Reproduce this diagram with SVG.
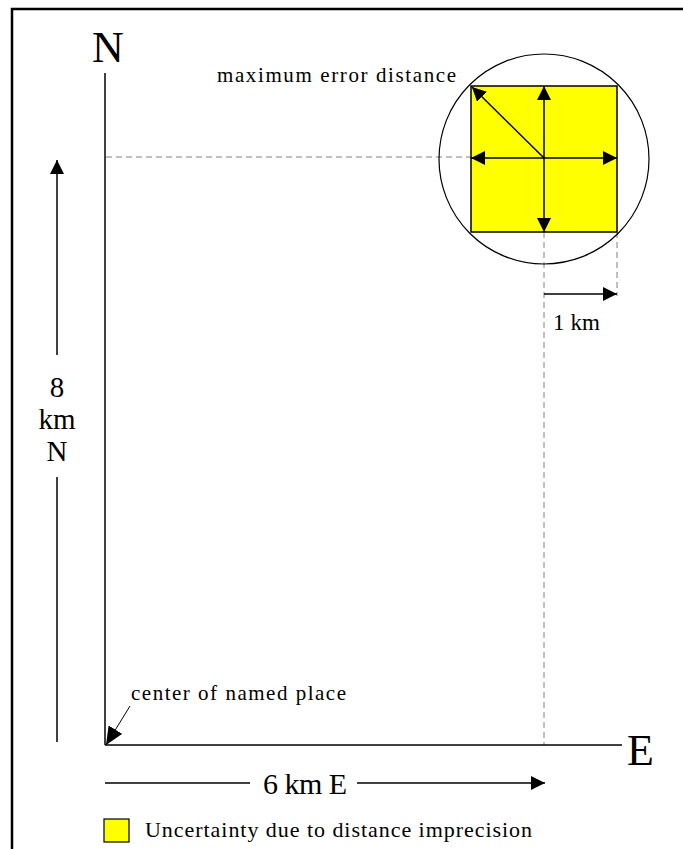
<svg xmlns="http://www.w3.org/2000/svg" width="683" height="849" viewBox="0 0 683 849">
<style>
text{font-family:"Liberation Serif","Times New Roman",serif;fill:#000}
.ax{stroke:#000;stroke-width:1.5;fill:none}
.dash{stroke:#808080;stroke-width:1;stroke-dasharray:6,4;fill:none}
.ar{stroke:#000;stroke-width:1.5;fill:none}
</style>
<defs>
<marker id="ah" viewBox="0 0 14 14" refX="14" refY="7" markerWidth="14" markerHeight="14" markerUnits="userSpaceOnUse" orient="auto">
<path d="M0,0 L14,7 L0,14 Z" fill="#000"/>
</marker>
<marker id="ahs" viewBox="0 0 18 16" refX="18" refY="8" markerWidth="18" markerHeight="16" markerUnits="userSpaceOnUse" orient="auto">
<path d="M0,0 L18,8 L0,16 Z" fill="#000"/>
</marker>
</defs>
<rect width="683" height="849" fill="#fff"/>
<path d="M12,849 V9 H683" stroke="#000" stroke-width="2.5" fill="none"/>

<g id="connectors">
<line class="dash" x1="106" y1="157" x2="471" y2="157"/>
<line class="dash" x1="544" y1="232" x2="544" y2="745"/>
<line class="dash" x1="617" y1="232" x2="617" y2="296"/>
<line class="ar" x1="544" y1="294" x2="617" y2="294" marker-end="url(#ah)"/>
<line class="ar" x1="57" y1="355" x2="57" y2="160" marker-end="url(#ah)"/>
<line class="ar" x1="57" y1="477" x2="57" y2="742"/>
<line class="ar" x1="105" y1="783" x2="250" y2="783"/>
<line class="ar" x1="357" y1="783" x2="545" y2="783" marker-end="url(#ah)"/>
<line x1="130" y1="706" x2="106" y2="745" stroke="#000" stroke-width="1" marker-end="url(#ahs)"/>
</g>

<g id="axes">
<line class="ax" x1="105" y1="73" x2="105" y2="745"/>
<line class="ax" x1="105" y1="745" x2="622" y2="745"/>
<text x="92" y="62" font-size="44">N</text>
<text x="627" y="765" font-size="44">E</text>
</g>

<g id="uncertainty">
<circle cx="544" cy="159" r="105" fill="none" stroke="#000" stroke-width="1.2"/>
<rect x="471" y="86" width="146" height="146" fill="#ffff00" stroke="#000" stroke-width="1.5"/>
<line class="ar" x1="544" y1="158" x2="544" y2="86" marker-end="url(#ah)"/>
<line class="ar" x1="544" y1="158" x2="544" y2="232" marker-end="url(#ah)"/>
<line class="ar" x1="544" y1="158" x2="471" y2="158" marker-end="url(#ah)"/>
<line class="ar" x1="544" y1="158" x2="617" y2="158" marker-end="url(#ah)"/>
<line class="ar" x1="544" y1="158" x2="472" y2="87" marker-end="url(#ah)"/>
</g>

<g id="labels">
<text x="217" y="82" font-size="21" textLength="239" lengthAdjust="spacing">maximum error distance</text>
<text x="553" y="330" font-size="23" textLength="47" lengthAdjust="spacing">1 km</text>
<text x="57" y="397" font-size="29" text-anchor="middle">8</text>
<text x="57" y="429" font-size="29" text-anchor="middle">km</text>
<text x="57" y="461" font-size="29" text-anchor="middle">N</text>
<text x="131" y="700" font-size="21" textLength="215" lengthAdjust="spacing">center of named place</text>
<text x="263" y="794" font-size="30" textLength="84" lengthAdjust="spacing">6 km E</text>
</g>

<g id="legend">
<rect x="104" y="819" width="25" height="23" fill="#ffff00" stroke="#000" stroke-width="1.2"/>
<text x="145" y="837" font-size="22" textLength="387" lengthAdjust="spacing">Uncertainty due to distance imprecision</text>
</g>
</svg>
